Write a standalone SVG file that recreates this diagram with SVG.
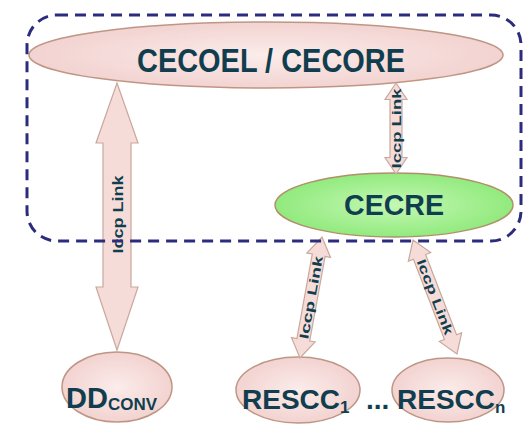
<svg xmlns="http://www.w3.org/2000/svg" width="527" height="427" viewBox="0 0 527 427">
<defs>
<radialGradient id="gPink" cx="50%" cy="50%" r="50%">
<stop offset="0" stop-color="#fbecea"/>
<stop offset="1" stop-color="#f2d3d1"/>
</radialGradient>
<radialGradient id="gGreen" cx="50%" cy="50%" r="50%">
<stop offset="0" stop-color="#c4f8b4"/>
<stop offset="1" stop-color="#92ea7e"/>
</radialGradient>
<style>
.pink{fill:url(#gPink);stroke:#bf9684;stroke-width:1.5}
.green{fill:url(#gGreen);stroke:#b0906a;stroke-width:1.5}
.lbl{font-family:"Liberation Sans",Arial,sans-serif;font-weight:bold;fill:#113e4e}
.arr{fill:#f6dcd8;stroke:#c9a89c;stroke-width:1.2}
.alb{font-family:"Liberation Sans",Arial,sans-serif;font-weight:bold;fill:#113e4e;text-anchor:middle}
.bnd{fill:none;stroke:#2c2c7c;stroke-width:3;stroke-dasharray:11 7}
</style>
</defs>
<rect width="527" height="427" fill="#ffffff"/>

<g id="node-cecoel">
<ellipse class="pink" cx="266" cy="55" rx="237" ry="33"/>
<text class="lbl" x="137" y="72" font-size="34" textLength="268" lengthAdjust="spacingAndGlyphs">CECOEL / CECORE</text>
</g>

<g id="node-cecre">
<ellipse class="green" cx="394" cy="205" rx="119" ry="32"/>
<text class="lbl" x="344" y="215" font-size="29" textLength="100" lengthAdjust="spacingAndGlyphs">CECRE</text>
</g>

<g id="node-ddconv">
<ellipse class="pink" cx="117" cy="387" rx="55" ry="35"/>
<text class="lbl" x="66" y="408" font-size="29">DD<tspan font-size="17" dy="2">CONV</tspan></text>
</g>

<g id="node-rescc1">
<ellipse class="pink" cx="298" cy="390" rx="62" ry="33"/>
<text class="lbl" x="242" y="409" font-size="28">RESCC<tspan font-size="17" dy="4">1</tspan></text>
</g>

<g id="ellipsis">
<text class="lbl" x="366" y="409" font-size="28">...</text>
</g>

<g id="node-rescen">
<ellipse class="pink" cx="448" cy="390" rx="56" ry="32"/>
<text class="lbl" x="397" y="409" font-size="28">RESCC<tspan font-size="17" dy="4">n</tspan></text>
</g>

<g id="connectors">
<g transform="translate(117,216.5)">
<polygon class="arr" points="0,-133.5 21,-73.5 14,-73.5 14,70.5 21,70.5 0,133.5 -21,70.5 -14,70.5 -14,-73.5 -21,-73.5"/>
<text class="alb" transform="rotate(-90)" x="2" y="5.5" font-size="15" textLength="78" lengthAdjust="spacingAndGlyphs">Iccp Link</text>
</g>
<g transform="translate(396,128.5)">
<polygon class="arr" points="0,-45.5 11,-29 6,-29 6,29 11,29 0,45.5 -11,29 -6,29 -6,-29 -11,-29"/>
<text class="alb" transform="rotate(-90)" x="0" y="4.5" font-size="13" textLength="80" lengthAdjust="spacingAndGlyphs">Iccp Link</text>
</g>
<g transform="translate(311,297.5) rotate(10.3)">
<polygon class="arr" points="0,-61.5 12,-43 6.5,-43 6.5,43 12,43 0,61.5 -12,43 -6.5,43 -6.5,-43 -12,-43"/>
<text class="alb" transform="rotate(-90)" x="0" y="4.5" font-size="13" textLength="84" lengthAdjust="spacingAndGlyphs">Iccp Link</text>
</g>
<g transform="translate(435,297) rotate(-21.1)">
<polygon class="arr" points="0,-61 12,-43 6.5,-43 6.5,43 12,43 0,61 -12,43 -6.5,43 -6.5,-43 -12,-43"/>
<text class="alb" transform="rotate(90)" x="0" y="4.5" font-size="13" textLength="80" lengthAdjust="spacingAndGlyphs">Iccp Link</text>
</g>
</g>

<g id="group-boundary">
<rect class="bnd" x="27" y="15" width="494" height="226" rx="30" ry="30"/>
</g>
</svg>
